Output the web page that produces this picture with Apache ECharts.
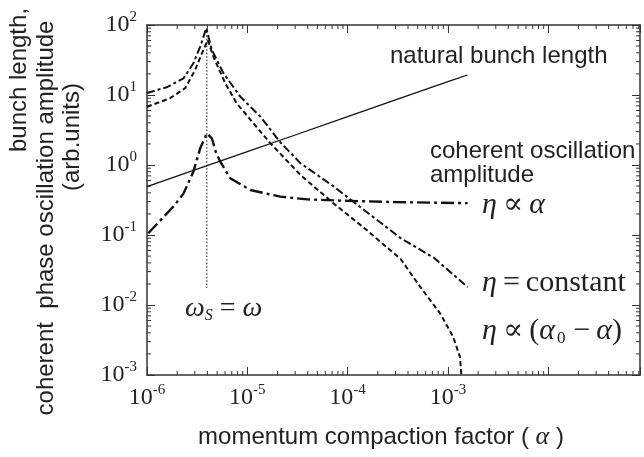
<!DOCTYPE html>
<html>
<head>
<meta charset="utf-8">
<title>momentum compaction factor</title>
<script src="https://cdn.jsdelivr.net/npm/echarts@6.0.0/dist/echarts.min.js"></script>
<style>
  html, body { margin: 0; padding: 0; background: #fff; }
  #chart { width: 644px; height: 457px; }
</style>
</head>
<body>
<div id="chart"></div>
<script>
// values, as [alpha, amplitude]
const naturalBunch = [[1e-6, 0.49], [3e-6, 0.85], [1e-5, 1.55], [3e-5, 2.68], [1e-4, 4.9], [3e-4, 8.5], [1e-3, 15.5], [1.57e-3, 19.3]];
const etaPropAlpha = [[1.03e-6, 0.106], [1.83e-6, 0.254], [2.31e-6, 0.39], [2.9e-6, 0.8], [3.39e-6, 1.73], [3.95e-6, 2.83],
    [4.43e-6, 2.4], [4.9e-6, 1.47], [5.37e-6, 1.12], [6.76e-6, 0.645], [1.07e-5, 0.44], [2.14e-5, 0.353], [3.95e-5, 0.323],
    [8.5e-5, 0.31], [3e-4, 0.295], [7e-4, 0.29], [1.57e-3, 0.285]];
const etaConstant = [[1e-6, 10.7], [1.57e-6, 12.9], [2.31e-6, 17.3], [2.9e-6, 28.4], [3.39e-6, 49], [3.9e-6, 90],
    [4.43e-6, 44], [5.8e-6, 20.4], [8.5e-6, 9.5], [1.35e-5, 4.9], [2.14e-5, 2.1], [3.39e-5, 1.06], [7.3e-5, 0.49],
    [1.57e-4, 0.21], [3.39e-4, 0.09], [7.3e-4, 0.047], [1.57e-3, 0.018]];
const etaAlpha0 = [[1e-6, 6.8], [1.7e-6, 9.0], [2.4e-6, 12.5], [3.02e-6, 22.8], [3.52e-6, 39], [4.03e-6, 61],
    [4.6e-6, 35], [6.03e-6, 14.7], [7.85e-6, 7.6], [1.15e-5, 3.95], [1.7e-5, 2.04], [3.39e-5, 0.72], [7.3e-5, 0.28],
    [1.57e-4, 0.116], [3.39e-4, 0.045], [5.27e-4, 0.0183], [8.35e-4, 0.0076], [1.13e-3, 0.0035], [1.32e-3, 0.0018], [1.36e-3, 0.001]];
const resonance = [[3.95e-6, 90], [3.95e-6, 0.0175]];

// tick labels (powers of ten) and minor tick steps
const xExponents = [-6, -5, -4, -3];
const yExponents = [-3, -2, -1, 0, 1, 2];
const minorSteps = [2, 3, 4, 5, 6, 7, 8, 9];

const X_MIN = 1e-6, X_MAX = 0.0822, Y_MIN = 1e-3, Y_MAX = 100;
const ink = '#222';
const serif = '"Liberation Serif", "DejaVu Serif", serif';
const sans = '"Liberation Sans", Arial, sans-serif';
const thin = '\u2009';

let xMinor = [];
for (let d = -6; d <= -2; d++) {
    minorSteps.forEach(k => { let v = k * Math.pow(10, d); if (v < X_MAX) xMinor.push([v, 1]); });
}
let yMinor = [];
for (let d = -3; d <= 1; d++) {
    minorSteps.forEach(k => yMinor.push([1e-5, k * Math.pow(10, d)]));
}

const powLabel = (list) => (v) => {
    let e = Math.log10(v);
    let r = Math.round(e);
    if (Math.abs(e - r) > 0.01 || list.indexOf(r) < 0) return '';
    return '{b|10}{s|' + r + '}';
};
const powRich = {
    b: { fontFamily: serif, fontSize: 24, color: ink, lineHeight: 30 },
    s: { fontFamily: serif, fontSize: 15, color: ink, lineHeight: 17, verticalAlign: 'top' }
};

const axisBase = {
    type: 'log',
    logBase: 10,
    axisLine: { show: true, lineStyle: { color: '#333', width: 1.5 } },
    axisTick: { show: true, inside: true, length: 8, lineStyle: { color: '#333' } },
    splitLine: { show: false },
    minorTick: { show: false }
};

let chart = echarts.init(document.getElementById('chart'), null, { renderer: 'canvas' });

const tickLine = (x1, y1, x2, y2) => ({
    type: 'line', shape: { x1: x1, y1: y1, x2: x2, y2: y2 }, style: { stroke: '#333', lineWidth: 1 }
});

const serifRich = {
    i: { fontFamily: serif, fontStyle: 'italic', fontSize: 30, lineHeight: 32 },
    n: { fontFamily: serif, fontSize: 30, lineHeight: 32 },
    sub: { fontFamily: serif, fontSize: 17, lineHeight: 14, verticalAlign: 'bottom', padding: [0, 2, 0, 2] },
    subi: { fontFamily: serif, fontStyle: 'italic', fontSize: 16, lineHeight: 14, verticalAlign: 'bottom' },
    w: { fontFamily: serif, fontStyle: 'italic', fontSize: 28, lineHeight: 30 },
    wn: { fontFamily: serif, fontSize: 28, lineHeight: 30 }
};

const rotText = (x, y, text) => ({
    type: 'text', x: x, y: y, rotation: Math.PI / 2,
    style: { text: text, font: '24px ' + sans, fill: ink, textAlign: 'center', textVerticalAlign: 'middle' }
});

const option = {
    animation: false,
    backgroundColor: '#fff',
    grid: { left: 147, right: 4, top: 25, bottom: 82 },
    xAxis: [
        Object.assign({}, axisBase, {
            min: X_MIN, max: X_MAX, position: 'bottom',
            axisLabel: { formatter: powLabel(xExponents), rich: powRich, margin: 8 }
        }),
        Object.assign({}, axisBase, {
            min: X_MIN, max: X_MAX, position: 'top', axisLabel: { show: false }
        })
    ],
    yAxis: [
        Object.assign({}, axisBase, {
            min: Y_MIN, max: Y_MAX, position: 'left',
            axisLabel: { formatter: powLabel(yExponents), rich: powRich, margin: 10 }
        }),
        Object.assign({}, axisBase, {
            min: Y_MIN, max: Y_MAX, position: 'right', axisLabel: { show: false }
        })
    ],
    series: [
        {
            name: 'natural bunch length', type: 'line', data: naturalBunch, showSymbol: false,
            lineStyle: { color: '#111', width: 1.2 }
        },
        {
            name: 'eta prop alpha', type: 'line', data: etaPropAlpha, showSymbol: false,
            lineStyle: { color: '#111', width: 2.4, type: [13, 4, 3, 4] }
        },
        {
            name: 'eta constant', type: 'line', data: etaConstant, showSymbol: false,
            lineStyle: { color: '#111', width: 2, type: [8, 3, 3, 3] }
        },
        {
            name: 'eta alpha0', type: 'line', data: etaAlpha0, showSymbol: false,
            lineStyle: { color: '#111', width: 2, type: [5, 3] }
        },
        {
            name: 'resonance', type: 'line', data: resonance, showSymbol: false,
            lineStyle: { color: '#111', width: 1, type: [1.5, 2] }
        },
        {
            // minor ticks on bottom and top
            type: 'custom', data: xMinor, silent: true, clip: false,
            renderItem: (params, api) => {
                let cs = params.coordSys;
                let px = api.coord([api.value(0), 1])[0];
                return { type: 'group', children: [
                    tickLine(px, cs.y + cs.height, px, cs.y + cs.height - 4),
                    tickLine(px, cs.y, px, cs.y + 4)
                ] };
            }
        },
        {
            // minor ticks on left and right
            type: 'custom', data: yMinor, silent: true, clip: false,
            renderItem: (params, api) => {
                let cs = params.coordSys;
                let py = api.coord([1e-5, api.value(1)])[1];
                return { type: 'group', children: [
                    tickLine(cs.x, py, cs.x + 4, py),
                    tickLine(cs.x + cs.width, py, cs.x + cs.width - 4, py)
                ] };
            }
        }
    ],
    graphic: [
        { type: 'text', x: 390, y: 56, style: { text: 'natural bunch length', font: '24px ' + sans, fill: ink, textVerticalAlign: 'middle' } },
        { type: 'text', x: 430, y: 151, style: { text: 'coherent oscillation', font: '24px ' + sans, fill: ink, textVerticalAlign: 'middle' } },
        { type: 'text', x: 430, y: 175, style: { text: 'amplitude', font: '24px ' + sans, fill: ink, textVerticalAlign: 'middle' } },
        { type: 'text', x: 482, y: 205, style: { text: '{i|η}{n|' + thin + '∝' + thin + '}{i|α}', fill: ink, textVerticalAlign: 'middle', rich: serifRich } },
        { type: 'text', x: 482, y: 283, style: { text: '{i|η}{n|' + thin + '=' + thin + 'constant}', fill: ink, textVerticalAlign: 'middle', rich: serifRich } },
        { type: 'text', x: 482, y: 331, style: { text: '{i|η}{n|' + thin + '∝' + thin + '(}{i|α}{sub|0}{n|' + thin + '−' + thin + '}{i|α}{n|)}', fill: ink, textVerticalAlign: 'middle', rich: serifRich } },
        { type: 'text', x: 185, y: 309, style: { text: '{w|ω}{subi|S}{wn| = }{w|ω}', fill: ink, textVerticalAlign: 'middle', rich: serifRich } },
        {
            type: 'text', x: 381, y: 437,
            style: {
                text: '{n|momentum compaction factor ( }{i|α}{n| )}', fill: ink, textAlign: 'center', textVerticalAlign: 'middle',
                rich: { n: { fontFamily: sans, fontSize: 24 }, i: { fontFamily: serif, fontStyle: 'italic', fontSize: 26 } }
            }
        },
        // y axis title, three rotated lines
        rotText(19, 80, 'bunch length,'),
        rotText(46, 218, 'coherent  phase oscillation amplitude'),
        rotText(72, 137, '(arb.units)')
    ]
};

chart.setOption(option);
</script>
</body>
</html>
